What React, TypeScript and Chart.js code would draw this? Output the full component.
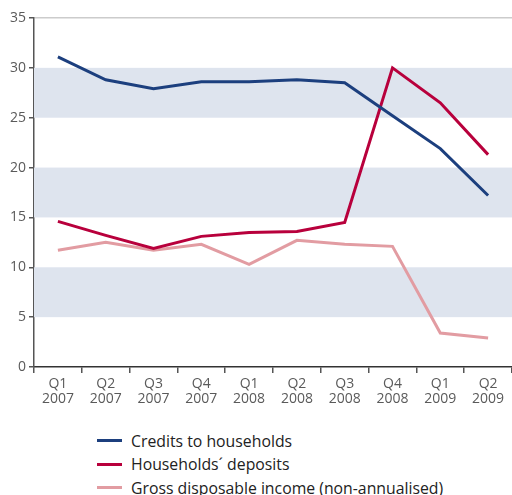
import React, { useEffect, useRef } from "react";
import { Chart, registerables } from "chart.js";

Chart.register(...registerables);

const quarters = ["Q1", "Q2", "Q3", "Q4", "Q1", "Q2", "Q3", "Q4", "Q1", "Q2"];
const years = ["2007", "2007", "2007", "2007", "2008", "2008", "2008", "2008", "2009", "2009"];
const credits = [31.1, 28.8, 27.9, 28.6, 28.6, 28.8, 28.5, 25.2, 21.9, 17.2];
const deposits = [14.6, 13.2, 11.9, 13.1, 13.5, 13.6, 14.5, 30.0, 26.5, 21.3];
const income = [11.7, 12.5, 11.7, 12.3, 10.3, 12.7, 12.3, 12.1, 3.4, 2.9];
const seriesNames = ["Credits to households", "Households\u00b4 deposits", "Gross disposable income (non-annualised)"];
const seriesColors = ["#1c3f7e", "#b8003c", "#e29ca2"];
const bands = [[5, 10], [15, 20], [25, 30]];

const FONT = "'Open Sans', 'Noto Sans', sans-serif";

export default function App() {
  const ref = useRef<HTMLCanvasElement | null>(null);
  useEffect(() => {
    document.body.style.margin = "0";
    if (!ref.current) return;
    const bandPlugin = {
      id: "bands",
      beforeDatasetsDraw(chart: any) {
        const { ctx, chartArea, scales } = chart;
        ctx.save();
        ctx.fillStyle = "#dee4ee";
        for (const [a, b] of bands) {
          const y1 = scales.y.getPixelForValue(b);
          const y2 = scales.y.getPixelForValue(a);
          ctx.fillRect(chartArea.left, y1, chartArea.right - chartArea.left, y2 - y1);
        }
        ctx.restore();
      },
    };
    const chart = new Chart(ref.current, {
      type: "line",
      data: {
        labels: quarters.map((q, i) => [q, years[i]]),
        datasets: [credits, deposits, income].map((d, i) => ({
          label: seriesNames[i],
          data: d,
          borderColor: seriesColors[i],
          backgroundColor: seriesColors[i],
          borderWidth: 3,
          pointRadius: 0,
          tension: 0,
          fill: false,
        })),
      },
      options: {
        animation: false,
        responsive: false,
        layout: { padding: { top: 18, right: 0, left: 0, bottom: 0 } },
        plugins: { legend: { display: false }, tooltip: { enabled: false } },
        scales: {
          x: {
            offset: true,
            grid: {
              offset: true,
              drawOnChartArea: false,
              drawTicks: true,
              tickLength: 6,
              tickColor: "#555",
              lineWidth: 1.5,
            },
            border: { color: "#333", width: 1.5 },
            ticks: {
              color: "#5a5a5a",
              font: { family: FONT, size: 14, lineHeight: 1.1 },
              padding: 3,
              maxRotation: 0,
              autoSkip: false,
            },
            afterFit(scale: any) {
              scale.height = 43;
            },
          },
          y: {
            min: 0,
            max: 35,
            ticks: {
              stepSize: 5,
              color: "#5a5a5a",
              font: { family: FONT, size: 14 },
              padding: 3,
            },
            grid: {
              color: (c: any) => (c.tick && c.tick.value === 35 ? "#cccccc" : "rgba(0,0,0,0)"),
              lineWidth: 1.5,
              drawTicks: true,
              tickLength: 5,
              tickColor: "#555",
            },
            border: { color: "#555", width: 1.5 },
            afterFit(scale: any) {
              scale.width = 34;
            },
          },
        },
      },
      plugins: [bandPlugin],
    });
    return () => chart.destroy();
  }, []);

  return (
    <div style={{ position: "relative", width: 512, height: 495, overflow: "hidden", background: "#fff" }}>
      <canvas ref={ref} width={512} height={410} style={{ position: "absolute", left: 0, top: 0, width: 512, height: 410 }} />
      <div style={{ position: "absolute", left: 97, top: 429, fontFamily: FONT, fontSize: 15.8, color: "#222" }}>
        {seriesNames.map((n, i) => (
          <div key={n} style={{ display: "flex", alignItems: "center", height: 23.5, whiteSpace: "nowrap" }}>
            <span style={{ display: "inline-block", width: 25, height: 3, background: seriesColors[i], marginRight: 9 }} />
            <span>{n}</span>
          </div>
        ))}
      </div>
    </div>
  );
}
